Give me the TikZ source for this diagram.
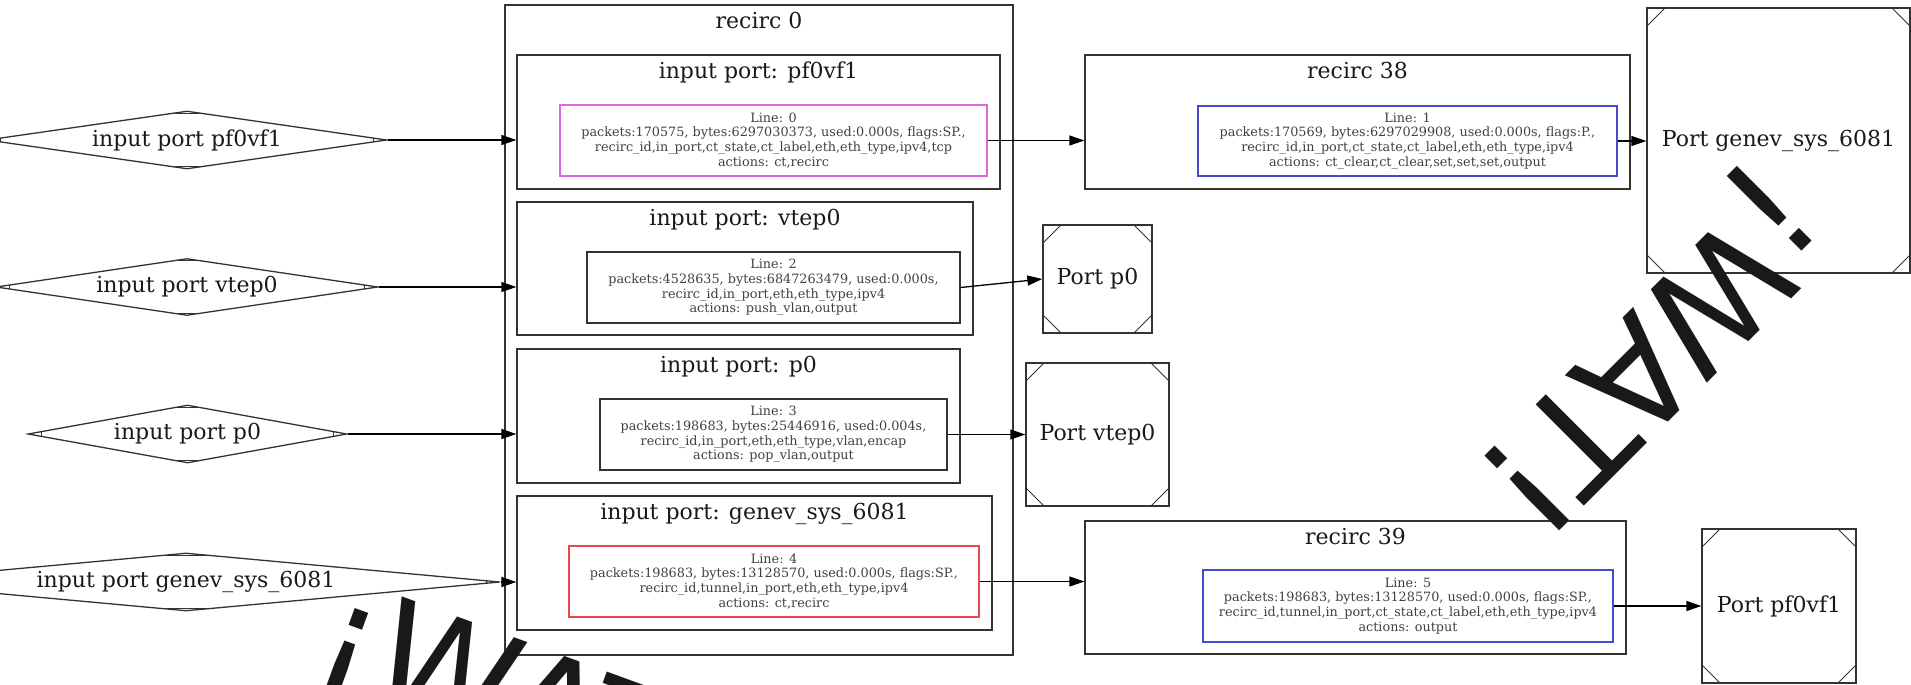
\documentclass[tikz,border=0pt]{standalone}
\usepackage{fontspec}
\setmainfont{DejaVu Serif}
\newfontfamily\wmfont{DejaVu Sans}
\usetikzlibrary{shapes.geometric,arrows.meta}

\definecolor{flowviolet}{HTML}{E066E0}
\definecolor{flowred}{HTML}{E84A4A}
\definecolor{flowblue}{HTML}{4848D0}
\definecolor{edgegray}{HTML}{333333}

\tikzset{
	cluster/.style={draw=edgegray, line width=1.3pt, inner sep=0pt},
	clabel/.style={anchor=base, yshift=-24pt, inner sep=0pt},
	flow/.style={draw=edgegray, line width=1.3pt, inner sep=0pt, align=center, text=black!75, font=\fontsize{12.8}{14.8}\selectfont},
	mdiamond/.style={shape=diamond, draw=edgegray, line width=1.3pt, inner sep=0pt, minimum height=58pt,
		path picture={\draw[edgegray, line width=1pt]
			([xshift=13pt]path picture bounding box.west) ++(0,-6pt) -- ++(0,12pt)
			([xshift=-13pt]path picture bounding box.east) ++(0,-6pt) -- ++(0,12pt)
			([yshift=-2pt]path picture bounding box.north) ++(-20pt,0) -- ++(40pt,0)
			([yshift=2pt]path picture bounding box.south) ++(-20pt,0) -- ++(40pt,0);}},
	msquare/.style={draw=edgegray, line width=1.3pt, inner sep=0pt,
		path picture={\draw[edgegray, line width=1pt]
			([xshift=18pt]path picture bounding box.north west) -- ([yshift=-18pt]path picture bounding box.north west)
			([xshift=-18pt]path picture bounding box.north east) -- ([yshift=-18pt]path picture bounding box.north east)
			([xshift=18pt]path picture bounding box.south west) -- ([yshift=18pt]path picture bounding box.south west)
			([xshift=-18pt]path picture bounding box.south east) -- ([yshift=18pt]path picture bounding box.south east);}},
	link/.style={draw=black, line width=1.3pt, -{Triangle[length=15pt,width=10pt]}},
	watermark/.style={font=\wmfont\fontsize{145}{145}\selectfont, inner sep=0pt}
}

\begin{document}
\begin{tikzpicture}[x=1pt, y=-1pt, font=\fontsize{22}{26}\selectfont, text=black!90]
	\useasboundingbox (0,0) rectangle (1911,685);
	\clip (0,0) rectangle (1911,685);
	
	%recirc 0 and its input ports
	\node[cluster, minimum width=508pt, minimum height=650pt, label={[clabel]north:{recirc 0}}] (rzero) at (759,330) {};
	\node[cluster, minimum width=483pt, minimum height=134pt, label={[clabel]north:{input port: pf0vf1}}] (cpf) at (758.5,122) {};
	\node[cluster, minimum width=456pt, minimum height=133pt, label={[clabel]north:{input port: vtep0}}] (cvtep) at (745,268.5) {};
	\node[cluster, minimum width=443pt, minimum height=134pt, label={[clabel]north:{input port: p0}}] (cpzero) at (738.5,416) {};
	\node[cluster, minimum width=475pt, minimum height=134pt, label={[clabel]north:{input port: genev\_sys\_6081}}] (cgenev) at (754.5,563) {};
	
	%recirc 38 and 39
	\node[cluster, minimum width=545pt, minimum height=134pt, label={[clabel]north:{recirc 38}}] (rtteight) at (1357.5,122) {};
	\node[cluster, minimum width=541pt, minimum height=133pt, label={[clabel]north:{recirc 39}}] (rttnine) at (1355.5,587.5) {};
	
	%flows
	\node[flow, draw=flowviolet, minimum width=427pt, minimum height=71pt] (lzero) at (773.5,140.5) {Line: 0\\packets:170575, bytes:6297030373, used:0.000s, flags:SP.,\\recirc\_id,in\_port,ct\_state,ct\_label,eth,eth\_type,ipv4,tcp\\actions: ct,recirc};
	\node[flow, minimum width=373pt, minimum height=71pt] (ltwo) at (773.5,287.5) {Line: 2\\packets:4528635, bytes:6847263479, used:0.000s,\\recirc\_id,in\_port,eth,eth\_type,ipv4\\actions: push\_vlan,output};
	\node[flow, minimum width=347pt, minimum height=71pt] (lthree) at (773.5,434.5) {Line: 3\\packets:198683, bytes:25446916, used:0.004s,\\recirc\_id,in\_port,eth,eth\_type,vlan,encap\\actions: pop\_vlan,output};
	\node[flow, draw=flowred, minimum width=410pt, minimum height=71pt] (lfour) at (774,581.5) {Line: 4\\packets:198683, bytes:13128570, used:0.000s, flags:SP.,\\recirc\_id,tunnel,in\_port,eth,eth\_type,ipv4\\actions: ct,recirc};
	\node[flow, draw=flowblue, minimum width=419pt, minimum height=70pt] (lone) at (1407.5,141) {Line: 1\\packets:170569, bytes:6297029908, used:0.000s, flags:P.,\\recirc\_id,in\_port,ct\_state,ct\_label,eth,eth\_type,ipv4\\actions: ct\_clear,ct\_clear,set,set,set,output};
	\node[flow, draw=flowblue, minimum width=410pt, minimum height=72pt] (lfive) at (1408,606) {Line: 5\\packets:198683, bytes:13128570, used:0.000s, flags:SP.,\\recirc\_id,tunnel,in\_port,ct\_state,ct\_label,eth,eth\_type,ipv4\\actions: output};
	
	%output ports
	\node[msquare, minimum width=263pt, minimum height=265pt] (pgenev) at (1778.5,140.5) {Port genev\_sys\_6081};
	\node[msquare, minimum width=109pt, minimum height=108pt] (ppzero) at (1097.5,279) {Port p0};
	\node[msquare, minimum width=143pt, minimum height=143pt] (pvtep) at (1097.5,434.5) {Port vtep0};
	\node[msquare, minimum width=154pt, minimum height=154pt] (ppf) at (1779,606) {Port pf0vf1};
	
	%input ports
	\node[mdiamond, minimum width=400pt, label=center:{input port pf0vf1}] (dpf) at (187,140) {};
	\node[mdiamond, minimum width=382pt, minimum height=57pt, label=center:{input port vtep0}] (dvtep) at (187,287) {};
	\node[mdiamond, minimum width=319pt, label=center:{input port p0}] (dpzero) at (187.5,434) {};
	\node[mdiamond, minimum width=628pt, label=center:{input port genev\_sys\_6081}] (dgenev) at (186,582) {};
	
	%edges
	\draw[link] (dpf.east) -- (dpf.east -| cpf.west);
	\draw[link] (dvtep.east) -- (dvtep.east -| cvtep.west);
	\draw[link] (dpzero.east) -- (dpzero.east -| cpzero.west);
	\draw[link] (dgenev.east) -- (dgenev.east -| cgenev.west);
	\draw[link] (lzero.east) -- (lzero.east -| rtteight.west);
	\draw[link] (ltwo.east) -- (ppzero.west);
	\draw[link] (lthree.east) -- (pvtep.west);
	\draw[link] (lfour.east) -- (lfour.east -| rttnine.west);
	\draw[link] (lone.east) -- (lone.east -| pgenev.west);
	\draw[link] (lfive.east) -- (ppf.west);
	
	%stamps
	\node[watermark, anchor=base west, rotate=-135] (wmright) at (1772,169) {¡WAT!};
	\node[watermark, anchor=base west, rotate=-20] (wmleft) at (307,675) {¡WAT!};
\end{tikzpicture}
\end{document}
